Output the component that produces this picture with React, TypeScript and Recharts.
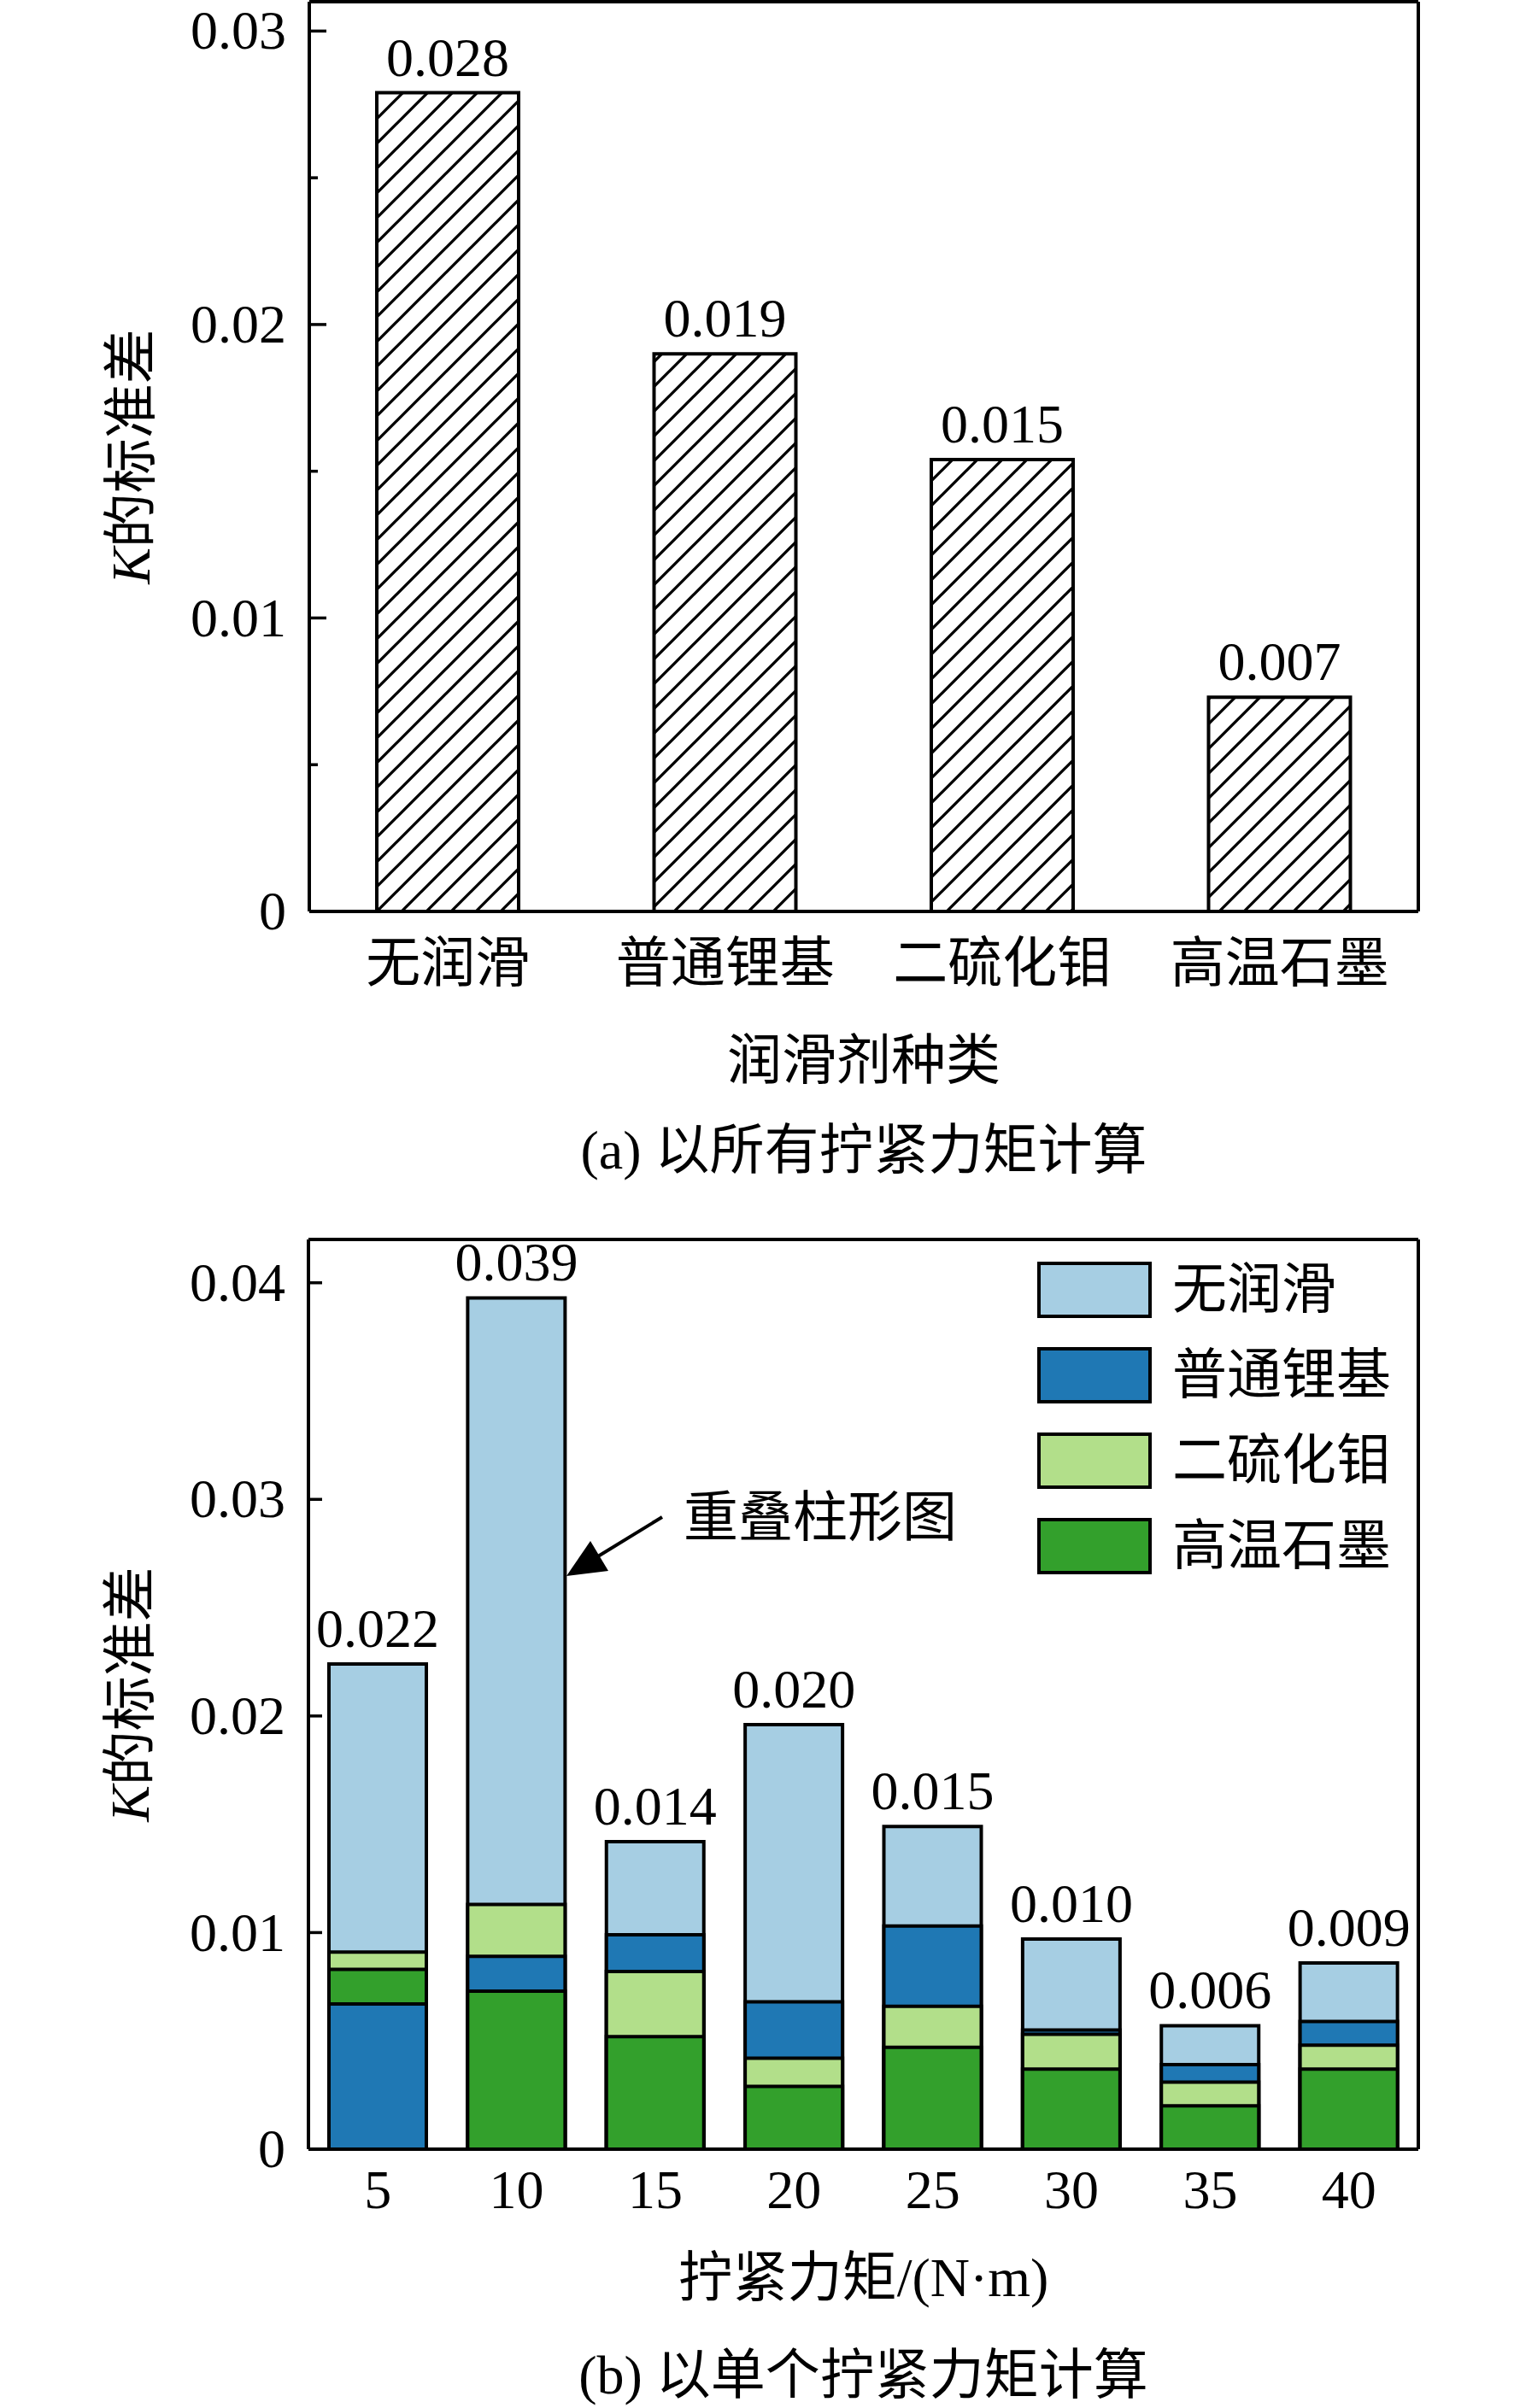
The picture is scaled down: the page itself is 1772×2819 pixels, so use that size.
import React from "react";
import {
  BarChart,
  Bar,
  XAxis,
  YAxis,
  Cell,
  LabelList,
  Label,
  Legend,
} from "recharts";

const FONT = "'Liberation Serif', 'Noto Sans CJK SC', serif";

// (a) K std over all torques
const lubes = ["无润滑", "普通锂基", "二硫化钼", "高温石墨"];
const kStdAll = [0.0279, 0.019, 0.0154, 0.0073];
const yMajorA = [0, 0.01, 0.02, 0.03];
const yMinorA = [0.005, 0.015, 0.025];

// (b) K std per torque
const torques = ["5", "10", "15", "20", "25", "30", "35", "40"];
const noLube = [0.0224, 0.0393, 0.0142, 0.0196, 0.0149, 0.0097, 0.0057, 0.0086];
const lithium = [0.0067, 0.0089, 0.0099, 0.0068, 0.0103, 0.0055, 0.0039, 0.0059];
const moS2 = [0.0091, 0.0113, 0.0082, 0.0042, 0.0066, 0.0053, 0.0031, 0.0048];
const graphite = [0.0083, 0.0073, 0.0052, 0.0029, 0.0047, 0.0037, 0.002, 0.0037];
const yMajorB = [0, 0.01, 0.02, 0.03, 0.04];

const seriesColors = ["#a6cee3", "#1f78b4", "#b2df8a", "#33a02c"];
const seriesValues = [noLube, lithium, moS2, graphite];

const dataA = lubes.map((name, i) => ({ name, k: kStdAll[i] }));
const ticksA = [...yMajorA, ...yMinorA].sort((a, b) => a - b);

// overlapped bars: per torque, draw the biggest first so smaller ones sit on top
const dataB = torques.map((torque, i) => {
  const order = [0, 1, 2, 3].sort((a, b) => seriesValues[b][i] - seriesValues[a][i]);
  const row: any = { torque };
  order.forEach((s, r) => {
    row["r" + r] = seriesValues[s][i];
    row["c" + r] = s;
  });
  return row;
});

const YTick = (props: any) => {
  const { x, y, payload, majors, majorLen, minorLen } = props;
  const v = payload.value;
  const isMajor = majors.includes(v);
  return (
    <g>
      <line
        x1={x}
        x2={x + (isMajor ? majorLen : minorLen)}
        y1={y}
        y2={y}
        stroke="#000"
        strokeWidth={3.5}
      />
      {isMajor && (
        <text x={x - 27} y={y} dy="0.33em" textAnchor="end" fontSize={64} fontFamily={FONT} fill="#000">
          {String(v)}
        </text>
      )}
    </g>
  );
};

const XTick = (props: any) => {
  const { x, y, payload, gap } = props;
  return (
    <text x={x} y={y + gap} dy="0.35em" textAnchor="middle" fontSize={64} fontFamily={FONT} fill="#000">
      {payload.value}
    </text>
  );
};

const YTitle = (props: any) => {
  const { viewBox } = props;
  const cx = viewBox.x + viewBox.width - 209;
  const cy = viewBox.y + viewBox.height / 2;
  return (
    <text
      transform={`translate(${cx},${cy}) rotate(-90)`}
      textAnchor="middle"
      dominantBaseline="central"
      fontSize={64}
      fontFamily={FONT}
      fill="#000"
    >
      <tspan fontStyle="italic">K</tspan>的标准差
    </text>
  );
};

const XTitle = (props: any) => {
  const { viewBox, title, caption, titleGap, captionGap } = props;
  const cx = viewBox.x + viewBox.width / 2;
  const y = viewBox.y;
  return (
    <g fontFamily={FONT} fontSize={64} fill="#000" textAnchor="middle">
      <text x={cx} y={y + titleGap} dy="0.36em">
        {title}
      </text>
      <text x={cx} y={y + captionGap} dy="0.36em">
        {caption}
      </text>
    </g>
  );
};

const LegendB = () => (
  <div style={{ fontFamily: FONT, fontSize: 64, color: "#000" }}>
    {lubes.map((n, i) => (
      <div key={n} style={{ display: "flex", alignItems: "center", height: 100 }}>
        <span
          style={{
            display: "inline-block",
            width: 126,
            height: 58,
            border: "4px solid #000",
            background: seriesColors[i],
          }}
        />
        <span style={{ marginLeft: 24, lineHeight: 1 }}>{n}</span>
      </div>
    ))}
  </div>
);

const frame = { stroke: "#000", strokeWidth: 4 };

const App = () => {
  return (
    <div style={{ position: "relative", width: 1772, height: 2819, background: "#fff" }}>
      <style>{"body{margin:0}"}</style>

      <div style={{ position: "absolute", left: 0, top: 0 }}>
        <BarChart width={1772} height={1400} data={dataA} margin={{ top: 1, right: 111, bottom: 253, left: 122 }}>
          <defs>
            <pattern id="hatch" patternUnits="userSpaceOnUse" width={29} height={29}>
              <path d="M0,29 L29,0 M-5,5 L5,-5 M24,34 L34,24" stroke="#000" strokeWidth={3.3} />
            </pattern>
          </defs>
          <XAxis
            dataKey="name"
            height={80}
            interval={0}
            tickLine={false}
            tickSize={0}
            tickMargin={0}
            axisLine={frame}
            tick={<XTick gap={60} />}
          >
            <Label
              content={
                <XTitle title="润滑剂种类" caption="(a) 以所有拧紧力矩计算" titleGap={173} captionGap={278} />
              }
            />
          </XAxis>
          <XAxis xAxisId="top" orientation="top" dataKey="name" height={1} tick={false} tickLine={false} axisLine={frame} />
          <YAxis
            type="number"
            domain={[0, 0.031]}
            ticks={ticksA}
            interval={0}
            width={240}
            tickLine={false}
            tickSize={0}
            tickMargin={0}
            axisLine={frame}
            tick={<YTick majors={yMajorA} majorLen={20} minorLen={10} />}
          >
            <Label content={<YTitle />} />
          </YAxis>
          <YAxis yAxisId="right" orientation="right" type="number" domain={[0, 1]} width={1} tick={false} tickLine={false} axisLine={frame} />
          <Bar dataKey="k" barSize={166} fill="url(#hatch)" stroke="#000" strokeWidth={4} isAnimationActive={false}>
            <LabelList
              dataKey="k"
              position="top"
              offset={20}
              fontSize={64}
              fontFamily={FONT}
              fill="#000"
              formatter={(v: any) => Number(v).toFixed(3)}
            />
          </Bar>
        </BarChart>
      </div>

      <div style={{ position: "absolute", left: 0, top: 1400 }}>
        <BarChart
          width={1772}
          height={1419}
          data={dataB}
          barGap={-114}
          margin={{ top: 50, right: 111, bottom: 223, left: 121 }}
        >
          <XAxis
            dataKey="torque"
            height={80}
            interval={0}
            tickLine={false}
            tickSize={0}
            tickMargin={0}
            axisLine={frame}
            tick={<XTick gap={47} />}
          >
            <Label
              content={
                <XTitle title="拧紧力矩/(N·m)" caption="(b) 以单个拧紧力矩计算" titleGap={149} captionGap={263} />
              }
            />
          </XAxis>
          <XAxis xAxisId="top" orientation="top" dataKey="torque" height={1} tick={false} tickLine={false} axisLine={frame} />
          <YAxis
            type="number"
            domain={[0, 0.042]}
            ticks={yMajorB}
            interval={0}
            width={240}
            tickLine={false}
            tickSize={0}
            tickMargin={0}
            axisLine={frame}
            tick={<YTick majors={yMajorB} majorLen={16} minorLen={8} />}
          >
            <Label content={<YTitle />} />
          </YAxis>
          <YAxis yAxisId="right" orientation="right" type="number" domain={[0, 1]} width={1} tick={false} tickLine={false} axisLine={frame} />
          <Legend
            layout="vertical"
            align="center"
            verticalAlign="middle"
            content={<LegendB />}
            wrapperStyle={{ left: 1214, top: 60, width: 460, height: 400 }}
          />
          {[0, 1, 2, 3].map((r) => (
            <Bar
              key={r}
              dataKey={"r" + r}
              barSize={114}
              stroke="#000"
              strokeWidth={4}
              isAnimationActive={false}
              legendType="none"
            >
              {dataB.map((row, i) => (
                <Cell key={i} fill={seriesColors[row["c" + r]]} />
              ))}
              {r === 0 && (
                <LabelList
                  dataKey="r0"
                  position="top"
                  offset={20}
                  fontSize={64}
                  fontFamily={FONT}
                  fill="#000"
                  formatter={(v: any) => Number(v).toFixed(3)}
                />
              )}
            </Bar>
          ))}
        </BarChart>
        <svg
          width={1772}
          height={1419}
          style={{ position: "absolute", left: 0, top: 0, pointerEvents: "none" }}
        >
          <line x1={775} y1={376} x2={695} y2={425} stroke="#000" strokeWidth={4} />
          <polygon points="663,445 712,439 691,404" fill="#000" />
          <text x={800} y={375} dy="0.36em" fontSize={64} fontFamily={FONT} fill="#000">
            重叠柱形图
          </text>
        </svg>
      </div>
    </div>
  );
};

export default App;
